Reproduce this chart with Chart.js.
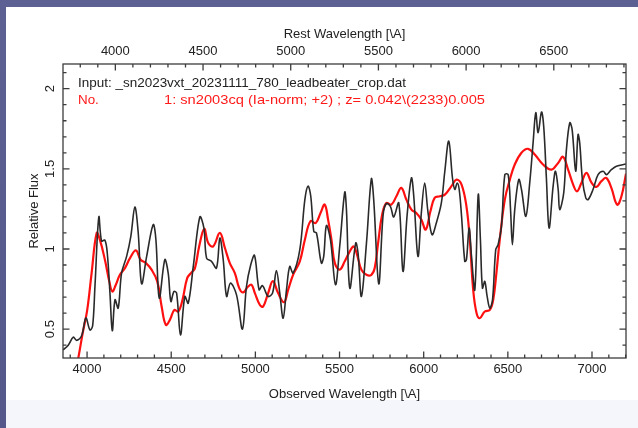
<!DOCTYPE html>
<html><head><meta charset="utf-8">
<script src="https://cdn.jsdelivr.net/npm/chart.js@4/dist/chart.umd.min.js"></script>
<style>
html,body{margin:0;padding:0;background:#585c8d;}
#wrap{position:relative;width:638px;height:428px;overflow:hidden;}
canvas{position:absolute;left:0;top:0;}
</style></head>
<body><div id="wrap"><canvas id="c" width="638" height="428"></canvas></div>
<script>
// ---- data ----
const inputWave = [3857,3888,3918,3938,3968,3993,4017,4033,4047,4070,4086,4106,4120,4136,4150,4166,4185,4205,4235,4260,4284,4304,4324,4354,4393,4409,4429,4462,4482,4498,4516,4532,4555,4581,4601,4631,4670,4694,4710,4739,4769,4789,4809,4829,4852,4888,4923,4947,4972,4995,5022,5042,5076,5102,5125,5145,5165,5185,5204,5224,5264,5294,5313,5329,5347,5363,5392,5406,5422,5446,5476,5501,5531,5541,5561,5596,5610,5630,5660,5689,5703,5733,5759,5778,5802,5822,5852,5877,5901,5927,5941,5966,5986,6006,6026,6050,6075,6105,6125,6149,6171,6185,6199,6211,6225,6244,6254,6270,6284,6304,6324,6337,6349,6363,6377,6393,6409,6428,6442,6462,6482,6502,6516,6527,6541,6565,6581,6607,6630,6650,6666,6680,6700,6713,6729,6745,6769,6783,6799,6808,6832,6848,6868,6882,6903,6917,6927,6943,6963,6977,7006,7036,7066,7086,7115,7145,7202];
const inputFlux = [0.37,0.40,0.45,0.43,0.46,0.57,0.495,0.52,0.77,1.20,1.05,1.055,0.975,0.725,0.49,0.683,0.631,0.85,0.954,1.079,1.262,1.10,0.783,0.954,1.152,1.058,0.693,0.933,0.85,0.673,0.735,0.725,0.464,0.704,0.662,0.891,1.20,1.131,0.943,0.923,0.881,1.068,0.933,0.704,0.787,0.714,0.50,0.766,0.90,0.96,0.746,0.771,0.704,0.725,0.866,0.725,0.568,0.746,0.891,0.85,0.996,1.308,1.392,1.329,1.11,1.10,0.912,0.954,1.146,1.058,0.777,1.016,1.354,1.246,0.756,1.037,0.975,0.704,1.037,1.437,1.308,0.783,1.214,1.283,1.266,1.20,1.287,0.86,1.204,1.443,1.329,0.954,1.225,1.412,1.225,1.089,1.162,1.287,1.48,1.673,1.443,1.371,1.412,1.371,1.204,0.923,0.933,1.131,0.954,0.746,1.339,1.058,0.756,0.798,0.704,0.631,0.683,0.996,1.027,1.141,1.464,1.464,1.246,1.027,1.246,1.433,1.371,1.204,1.412,1.662,1.85,1.725,1.854,1.766,1.443,1.131,1.392,1.485,1.371,1.246,1.35,1.62,1.787,1.745,1.485,1.714,1.662,1.433,1.319,1.308,1.371,1.464,1.485,1.464,1.495,1.516,1.53];

const templateWave = [3935,3948,3974,4001,4027,4057,4076,4106,4132,4150,4171,4195,4225,4255,4290,4318,4350,4383,4417,4443,4468,4492,4518,4542,4567,4595,4621,4641,4666,4696,4720,4749,4789,4819,4848,4878,4904,4927,4957,4977,4997,5026,5046,5076,5104,5135,5170,5195,5224,5264,5294,5327,5359,5387,5412,5432,5452,5472,5501,5531,5561,5584,5604,5630,5660,5689,5709,5729,5753,5778,5808,5838,5867,5897,5927,5956,5986,6012,6040,6065,6096,6126,6165,6195,6225,6254,6274,6294,6314,6333,6363,6393,6413,6432,6452,6482,6512,6541,6581,6620,6660,6709,6759,6799,6828,6858,6888,6911,6937,6967,6996,7026,7056,7085,7115,7149,7175,7202];
const templateFlux = [0.25,0.32,0.475,0.62,0.85,1.10,1.058,0.933,0.798,0.735,0.777,0.839,0.881,0.943,0.991,0.933,0.912,0.871,0.798,0.641,0.527,0.558,0.62,0.61,0.683,0.818,0.854,0.881,1.016,1.125,1.037,1.016,1.10,1.006,0.912,0.85,0.756,0.729,0.766,0.777,0.725,0.652,0.641,0.725,0.80,0.725,0.668,0.746,0.839,0.923,1.058,1.173,1.162,1.225,1.277,1.183,1.058,0.912,0.871,0.923,0.985,1.016,0.964,0.871,0.839,0.839,0.881,1.037,1.214,1.287,1.277,1.329,1.381,1.308,1.246,1.225,1.183,1.121,1.235,1.319,1.329,1.339,1.392,1.433,1.402,1.266,1.058,0.746,0.60,0.568,0.61,0.62,0.683,0.85,1.058,1.308,1.433,1.527,1.60,1.625,1.589,1.527,1.495,1.537,1.575,1.495,1.402,1.36,1.412,1.475,1.416,1.387,1.423,1.443,1.381,1.277,1.329,1.47];

const redshift = 0.042;
const obsRange = [3857, 7202];
const fluxRange = [0.32, 2.154];
const obsTickLabels = [4000, 4500, 5000, 5500, 6000, 6500, 7000];
const restTickLabels = [4000, 4500, 5000, 5500, 6000, 6500];
const fluxTickLabels = [0.5, 1, 1.5, 2];
const obsTickStep = 500, obsMinorStep = 100;
const restTickStep = 500, restMinorStep = 100;
const fluxTickStep = 0.5, fluxMinorStep = 0.1;

const inputLabel = 'Input: _sn2023vxt_20231111_780_leadbeater_crop.dat';
const matchNo = 'No.';
const matchLabel = '1: sn2003cq (Ia-norm; +2) ; z= 0.042\\(2233)0.005';
const xTitle = 'Observed Wavelength [\\A]';
const x2Title = 'Rest Wavelength [\\A]';
const yTitle = 'Relative Flux';

// ---- chart ----
const FONT = "'Liberation Sans', Arial, Helvetica, sans-serif";
const INK = '#222222';

const bgPlugin = {
  id: 'bg',
  beforeDraw(chart) {
    const ctx = chart.ctx;
    ctx.save();
    const g = ctx.createLinearGradient(0, 0, 0, 428);
    g.addColorStop(0, '#5d6092'); g.addColorStop(1, '#53578a');
    ctx.fillStyle = g;
    ctx.fillRect(0, 0, 638, 428);
    ctx.fillStyle = '#ffffff';
    ctx.fillRect(6, 7, 632, 393);
    ctx.fillStyle = '#f4f6fb';
    ctx.fillRect(6, 400, 632, 28);
    ctx.restore();
  }
};

function fitText(ctx, text, x, y, width) {
  const w = ctx.measureText(text).width;
  ctx.save();
  ctx.translate(x, y);
  ctx.scale(width / w, 1);
  ctx.fillText(text, 0, 0);
  ctx.restore();
}

const framePlugin = {
  id: 'frame',
  afterDraw(chart) {
    const {ctx, chartArea: a, scales} = chart;
    ctx.save();
    ctx.strokeStyle = '#3c3c3c';
    ctx.lineWidth = 1.3;
    ctx.strokeRect(a.left, a.top, a.right - a.left, a.bottom - a.top);
    ctx.beginPath();
    const sx = scales.x, sx2 = scales.x2, sy = scales.y;
    const major = 6.5, minor = 3.5;
    for (let v = Math.ceil(sx.min / obsMinorStep) * obsMinorStep; v <= sx.max; v += obsMinorStep) {
      const p = sx.getPixelForValue(v);
      const L = (v % obsTickStep === 0) ? major : minor;
      ctx.moveTo(p, a.bottom); ctx.lineTo(p, a.bottom - L);
    }
    for (let v = Math.ceil(sx2.min / restMinorStep) * restMinorStep; v <= sx2.max; v += restMinorStep) {
      const p = sx2.getPixelForValue(v);
      const L = (v % restTickStep === 0) ? major : minor;
      ctx.moveTo(p, a.top); ctx.lineTo(p, a.top + L);
    }
    const n0 = Math.ceil(sy.min / fluxMinorStep - 1e-6), n1 = Math.floor(sy.max / fluxMinorStep + 1e-6);
    const ratio = Math.round(fluxTickStep / fluxMinorStep);
    for (let i = n0; i <= n1; i++) {
      const p = sy.getPixelForValue(i * fluxMinorStep);
      const L = (i % ratio === 0) ? major : minor;
      ctx.moveTo(a.left, p); ctx.lineTo(a.left + L, p);
      ctx.moveTo(a.right, p); ctx.lineTo(a.right - L, p);
    }
    ctx.stroke();
    // labels inside the plot
    ctx.font = '13.4px ' + FONT;
    ctx.textBaseline = 'middle';
    ctx.textAlign = 'left';
    ctx.fillStyle = INK;
    fitText(ctx, inputLabel, a.left + 15, 83, 328);
    ctx.fillStyle = '#ff1a1a';
    ctx.fillText(matchNo, a.left + 15, 100);
    fitText(ctx, matchLabel, 164, 100, 321);
    ctx.restore();
  }
};

const plain = v => String(Math.round(v * 1000) / 1000);
const fixedTicks = arr => s => { s.ticks = arr.map(v => ({value: v})); };

new Chart(document.getElementById('c'), {
  type: 'line',
  data: {
    datasets: [
      {
        label: 'Input',
        data: inputWave.map((w, i) => ({x: w, y: inputFlux[i]})),
        borderColor: '#2a2a2a', borderWidth: 1.6, pointRadius: 0, tension: 0.35, fill: false
      },
      {
        label: 'Template',
        data: templateWave.map((w, i) => ({x: w, y: templateFlux[i]})),
        borderColor: '#ff1010', borderWidth: 2.2, pointRadius: 0, tension: 0.4, fill: false
      }
    ]
  },
  options: {
    responsive: false, animation: false, devicePixelRatio: 1,
    layout: {padding: {left: 0, top: 0, right: 12, bottom: 0}},
    plugins: {legend: {display: false}, tooltip: {enabled: false}},
    scales: {
      x: {
        type: 'linear', position: 'bottom', min: obsRange[0], max: obsRange[1],
        afterBuildTicks: fixedTicks(obsTickLabels),
        afterFit: s => { s.height = 70; },
        grid: {drawOnChartArea: false, drawTicks: false},
        border: {display: false},
        ticks: {autoSkip: false, maxRotation: 0, padding: 4,
                color: INK, font: {family: FONT, size: 13}, callback: plain},
        title: {display: true, text: xTitle, color: INK, font: {family: FONT, size: 13}, padding: {top: 0, bottom: 26}}
      },
      x2: {
        type: 'linear', position: 'top', min: obsRange[0] / (1 + redshift), max: obsRange[1] / (1 + redshift),
        afterBuildTicks: fixedTicks(restTickLabels),
        afterFit: s => { s.height = 64; },
        grid: {drawOnChartArea: false, drawTicks: false},
        border: {display: false},
        ticks: {autoSkip: false, maxRotation: 0, padding: 5,
                color: INK, font: {family: FONT, size: 13}, callback: plain},
        title: {display: true, text: x2Title, color: INK, font: {family: FONT, size: 13}, padding: {top: 27, bottom: 0}}
      },
      y: {
        type: 'linear', position: 'left', min: fluxRange[0], max: fluxRange[1],
        afterBuildTicks: fixedTicks(fluxTickLabels),
        afterFit: s => { s.width = 63; },
        grid: {drawOnChartArea: false, drawTicks: false},
        border: {display: false},
        ticks: {autoSkip: false, minRotation: 90, maxRotation: 90,
                crossAlign: 'center', padding: 4, color: INK, font: {family: FONT, size: 13}, callback: plain},
        title: {display: true, text: yTitle, color: INK, font: {family: FONT, size: 13}, padding: {top: 27, bottom: 0}}
      }
    }
  },
  plugins: [bgPlugin, framePlugin]
});
</script>
</body></html>
